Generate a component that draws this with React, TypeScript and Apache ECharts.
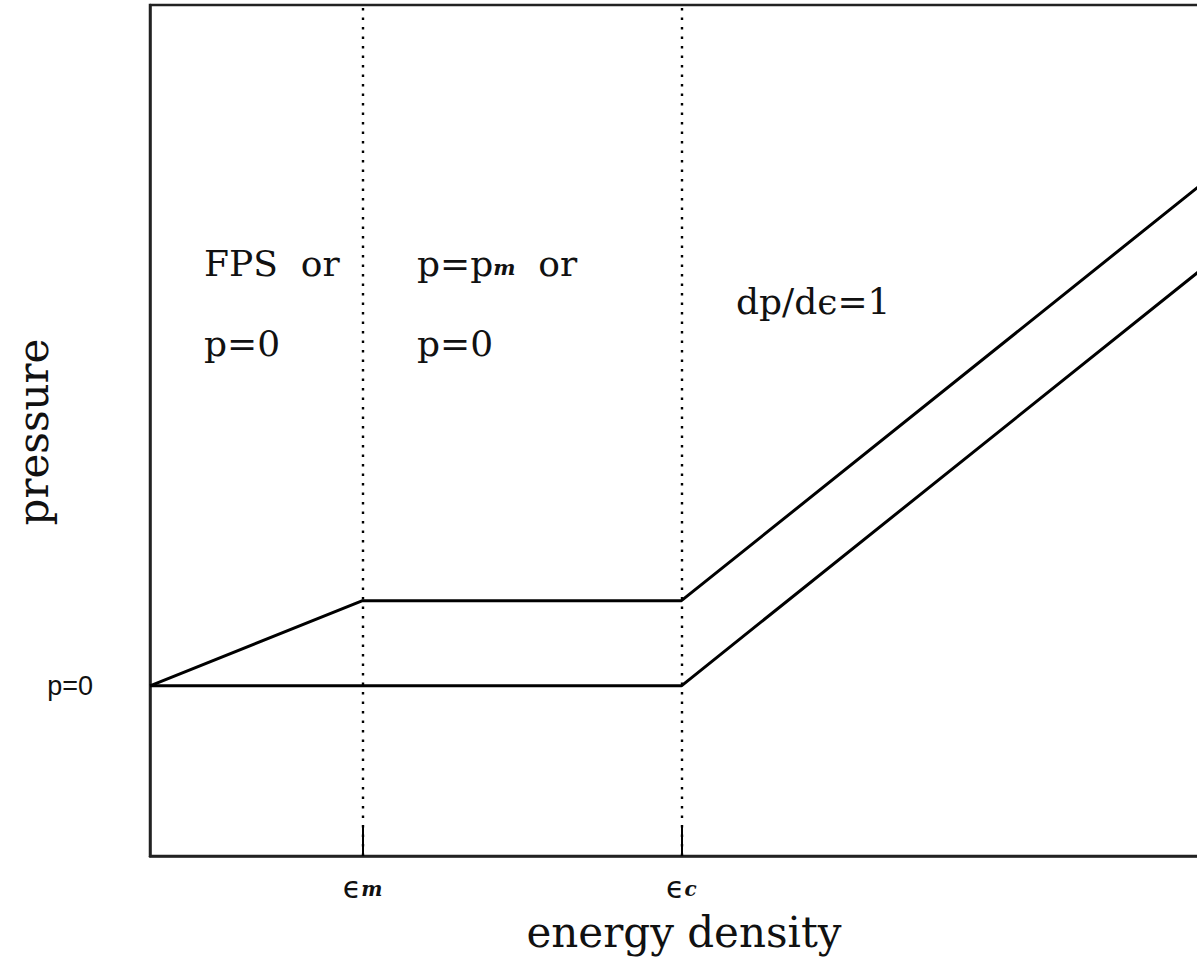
import React, { useEffect, useRef } from "react";
import * as echarts from "echarts";

// Piecewise equations of state (energy density in units, pressure in units)
const upperX = [0, 2, 5, 10.5];
const upperY = [0, 1, 1, 6.5];
const lowerX = [0, 5, 10.5];
const lowerY = [0, 0, 5.5];

const epsM = 2;
const epsC = 5;
const xTickValues = [epsM, epsC];
const xTickLabels = ["{e|ϵ}{s|m}", "{e|ϵ}{s|c}"];
const yLabelValue = 0;
const yLabelText = "p=0";

const regionTexts = [
  { text: "FPS  or", x: 204, y: 263 },
  { text: "p=0", x: 204, y: 343 },
  { text: "p={s|p}{m|m}  or", x: 417, y: 263, rich: true },
  { text: "p=0", x: 417, y: 343 },
  { text: "dp/dϵ=1", x: 736, y: 301 },
];

const SERIF = "'DejaVu Serif', serif";

export default function App() {
  const ref = useRef<HTMLDivElement>(null);

  useEffect(() => {
    if (!ref.current) return;
    const chart = echarts.init(ref.current, undefined, { renderer: "svg" });
    const zip = (xs: number[], ys: number[]) => xs.map((x, i) => [x, ys[i]]);

    const option: any = {
      animation: false,
      backgroundColor: "#fff",
      grid: {
        left: 150,
        top: 5,
        width: 1116,
        height: 851,
        show: true,
        borderColor: "#222",
        borderWidth: 2.5,
        containLabel: false,
      },
      xAxis: {
        type: "value",
        min: 0,
        max: 10.5,
        splitLine: { show: false },
        axisLine: { show: true, onZero: false, lineStyle: { color: "#222", width: 2.5 } },
        axisTick: {
          show: true,
          inside: true,
          length: 29,
          customValues: xTickValues,
          lineStyle: { color: "#000", width: 2 },
        },
        axisLabel: {
          show: true,
          customValues: xTickValues,
          margin: 18,
          lineHeight: 26,
          formatter: (v: number) => xTickLabels[xTickValues.indexOf(v)] ?? "",
          rich: {
            e: {
              fontFamily: "'DejaVu Sans', sans-serif",
              fontSize: 30,
              lineHeight: 26,
              color: "#111",
            },
            s: {
              fontFamily: SERIF,
              fontStyle: "italic",
              fontWeight: "bold",
              fontSize: 20,
              lineHeight: 20,
              color: "#111",
              padding: [4, 0, 0, 0],
            },
          },
        },
      },
      yAxis: {
        type: "value",
        min: -2,
        max: 8,
        interval: 1,
        splitLine: { show: false },
        axisLine: { show: true, onZero: false, lineStyle: { color: "#222", width: 2.5 } },
        axisTick: { show: false },
        axisLabel: {
          show: true,
          margin: 57,
          color: "#111",
          fontFamily: "'Liberation Sans', Arial, sans-serif",
          fontSize: 27,
          formatter: (v: number) => (v === yLabelValue ? yLabelText : ""),
        },
      },
      series: [
        {
          type: "line",
          data: zip(upperX, upperY),
          symbol: "none",
          lineStyle: { color: "#000", width: 3 },
          markLine: {
            silent: true,
            symbol: "none",
            label: { show: false },
            lineStyle: { color: "#000", width: 2.4, type: [2.5, 7] },
            data: [{ xAxis: epsM }, { xAxis: epsC }],
          },
        },
        {
          type: "line",
          data: zip(lowerX, lowerY),
          symbol: "none",
          lineStyle: { color: "#000", width: 3 },
        },
      ],
      graphic: [
        ...regionTexts.map((t) => ({
          type: "text",
          x: t.x,
          y: t.y,
          style: {
            text: t.text,
            fill: "#111",
            font: `36px ${SERIF}`,
            align: "left",
            verticalAlign: "middle",
            rich: t.rich
              ? {
                  s: { font: `36px ${SERIF}`, fill: "#111" },
                  m: {
                    fontFamily: SERIF,
                    fontStyle: "italic",
                    fontWeight: "bold",
                    fontSize: 21,
                    fill: "#111",
                    padding: [9, 0, 0, 0],
                  },
                }
              : undefined,
          },
        })),
        {
          type: "text",
          x: 684,
          y: 932,
          style: {
            text: "energy density",
            fill: "#111",
            font: `42px ${SERIF}`,
            lineHeight: 40,
            align: "center",
            verticalAlign: "middle",
          },
        },
        {
          type: "text",
          x: 33,
          y: 432,
          rotation: Math.PI / 2,
          style: {
            text: "pressure",
            fill: "#111",
            font: `42px ${SERIF}`,
            align: "center",
            verticalAlign: "middle",
          },
        },
      ],
    };

    chart.setOption(option);
    return () => chart.dispose();
  }, []);

  return (
    <div
      style={{
        position: "fixed",
        left: 0,
        top: 0,
        width: 1197,
        height: 959,
        overflow: "hidden",
        background: "#fff",
      }}
    >
      <div ref={ref} style={{ width: 1300, height: 959 }} />
    </div>
  );
}
